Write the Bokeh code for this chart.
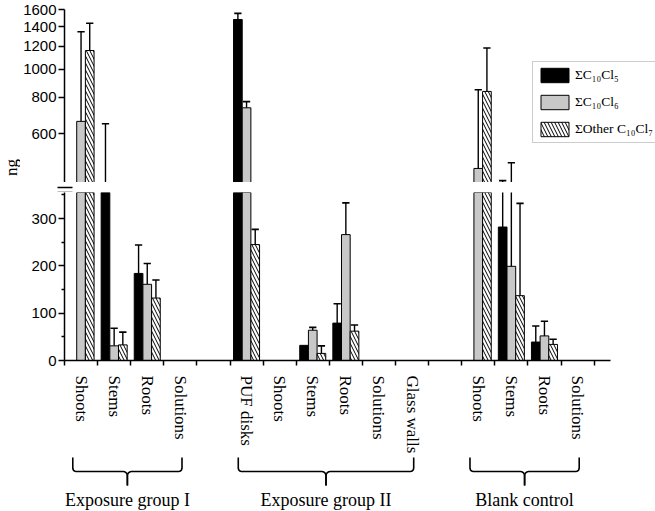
import numpy as np
from bokeh.plotting import figure
from bokeh.models import Range1d, FixedTicker, Legend, LegendItem
from bokeh.layouts import column, row
from bokeh.embed import file_html
from bokeh.resources import INLINE
from bokeh.core.properties import value

# ---------------- data ----------------
group_names = ["Exposure group I", "Exposure group II", "Blank control"]
group_categories = [
    ["Shoots", "Stems", "Roots", "Solutions"],
    ["PUF disks", "Shoots", "Stems", "Roots", "Solutions", "Glass walls"],
    ["Shoots", "Stems", "Roots", "Solutions"],
]
series_names = ["ΣC₁₀Cl₅", "ΣC₁₀Cl₆", "ΣOther C₁₀Cl₇"]
c10cl5 = [0, 380, 184, 0, 1483, 0, 32, 79, 0, 0, 0, 282, 39, 0]
c10cl5_err = [0, 270, 60, 0, 73, 0, 0, 41, 0, 0, 0, 132, 34, 0]
c10cl6 = [662, 31, 161, 0, 737, 0, 64, 266, 0, 0, 456, 199, 52, 0]
c10cl6_err = [683, 37, 44, 0, 37, 0, 6, 67, 0, 0, 394, 278, 31, 0]
c10cl7 = [1160, 33, 132, 0, 245, 0, 15, 62, 0, 0, 839, 137, 34, 0]
c10cl7_err = [280, 27, 38, 0, 32, 0, 16, 13, 0, 0, 344, 195, 11, 0]
lower_ticks = [0, 100, 200, 300]
lower_minor = [50, 150, 250, 350]
upper_ticks = [600, 800, 1000, 1200, 1400, 1600]
lower_range = (0, 355)
upper_range = (408, 1605)
y_label = "ng"

series = [c10cl5, c10cl6, c10cl7]
errors = [c10cl5_err, c10cl6_err, c10cl7_err]

# ---------------- positions ----------------
slots, labels, group_first, group_last = [], [], [], []
pos = 0
for cats in group_categories:
    group_first.append(pos)
    for c in cats:
        slots.append(pos)
        labels.append(c)
        pos += 1
    group_last.append(pos - 1)
    pos += 1
n_slots = pos - 1
centers = [s + 0.5 for s in slots]
bar_w = 0.262
offsets = [-bar_w, 0.0, bar_w]
cap_half = 0.11

fill_colors = ["black", "#c8c8c8", "white"]
hatches = [None, None, "\\"]

LEFT_W = 20          # strip holding the y-axis title
W = 655 - LEFT_W     # main column width
LB = 42              # left border of the main figures (axis panel)
AXIS_W = 548         # drawn length of the category axis
x_axis_end = n_slots + 0.5
slot_px = AXIS_W / x_axis_end
xr = Range1d(0, (W - LB) / slot_px)   # frames run to the right edge (room for legend)
SERIF = "Liberation Serif"
SANS = "Liberation Sans"

H1, HGAP, H2, H3 = 182, 10, 264, 55
B2 = 96


def style(p):
    p.outline_line_color = None
    p.xgrid.grid_line_color = None
    p.ygrid.grid_line_color = None
    p.background_fill_color = "white"
    p.border_fill_color = "white"


def style_yaxis(ax):
    ax.major_tick_in = 0
    ax.major_tick_out = 6
    ax.minor_tick_in = 0
    ax.axis_line_width = 1.5
    ax.major_tick_line_width = 1.5
    ax.minor_tick_line_width = 1.5
    ax.major_label_text_font = SANS
    ax.major_label_text_font_size = "15px"
    ax.major_label_text_color = "black"
    ax.major_label_standoff = 2


def draw(p, bottom):
    rends = []
    for k in range(3):
        vals, errs = series[k], errors[k]
        xs = [c + offsets[k] for c, v in zip(centers, vals) if v > 0]
        tops = [v for v in vals if v > 0]
        kw = dict(fill_color=fill_colors[k], line_color="black", line_width=1)
        if hatches[k]:
            kw.update(hatch_pattern=hatches[k], hatch_color="black", hatch_scale=7, hatch_weight=1)
        r = p.vbar(x=xs, top=tops, bottom=bottom, width=bar_w, **kw)
        rends.append(r)
        ex = [c + offsets[k] for c, v, e in zip(centers, vals, errs) if e > 0]
        ey0 = [v for v, e in zip(vals, errs) if e > 0]
        ey1 = [v + e for v, e in zip(vals, errs) if e > 0]
        p.segment(x0=ex, x1=ex, y0=ey0, y1=ey1, line_color="black", line_width=1.4)
        p.segment(x0=[x - cap_half for x in ex], x1=[x + cap_half for x in ex],
                  y0=ey1, y1=ey1, line_color="black", line_width=1.6)
    return rends


def base_fig(height, **kw):
    args = dict(width=W, height=height, x_range=xr, output_backend="svg",
                toolbar_location=None, min_border=0, min_border_left=LB, min_border_right=0)
    args.update(kw)
    p = figure(**args)
    style(p)
    return p


# ---------------- upper (log) panel ----------------
p1 = base_fig(H1, y_range=Range1d(*upper_range), y_axis_type="log", x_axis_location=None,
              min_border_top=9, min_border_bottom=0)
rends = draw(p1, 1)
ya = p1.yaxis[0]
ya.ticker = FixedTicker(ticks=upper_ticks, minor_ticks=[])
ya.major_label_overrides = {t: str(t) for t in upper_ticks}
ya.minor_tick_out = 0
style_yaxis(ya)

legend = Legend(items=[LegendItem(label=series_names[k], renderers=[rends[k]]) for k in range(3)],
                location=(468, 39), border_line_color="#999999", border_line_width=1,
                background_fill_alpha=1, padding=4, spacing=9, margin=0,
                glyph_width=35, glyph_height=18, label_standoff=3, label_height=18,
                label_text_font=SERIF, label_text_font_size="13.5px", label_text_color="black")
p1.add_layout(legend, "center")

# ---------------- axis-break strip (break marks drawn as ticks across the axis) ----------------
pg = base_fig(HGAP, y_range=Range1d(0, HGAP), x_axis_location=None,
              min_border_top=0, min_border_bottom=0)
gy = pg.yaxis[0]
gy.ticker = FixedTicker(ticks=[0.2 * HGAP, 0.7 * HGAP], minor_ticks=[])
gy.major_label_overrides = {0.2 * HGAP: "", 0.7 * HGAP: ""}
gy.axis_line_color = None
gy.major_tick_out = 7
gy.major_tick_in = 8
gy.major_tick_line_width = 1.3
gy.minor_tick_out = 0
gy.minor_tick_in = 0
gy.major_label_text_font_size = "1px"

# ---------------- lower (linear) panel ----------------
p2 = base_fig(H2, y_range=Range1d(*lower_range), min_border_top=0, min_border_bottom=B2)
draw(p2, 0)
ya2 = p2.yaxis[0]
ya2.ticker = FixedTicker(ticks=lower_ticks, minor_ticks=lower_minor)
ya2.minor_tick_out = 3
style_yaxis(ya2)

xa = p2.xaxis[0]
xa.bounds = (0, x_axis_end)
xa.ticker = FixedTicker(ticks=centers, minor_ticks=list(range(0, n_slots + 1)))
xa.major_label_overrides = {c: l for c, l in zip(centers, labels)}
xa.major_tick_in = 0
xa.major_tick_out = 0
xa.minor_tick_in = 0
xa.minor_tick_out = 5
xa.minor_tick_line_width = 1.5
xa.axis_line_width = 1.5
xa.major_label_orientation = "vertical"
xa.major_label_text_font = SERIF
xa.major_label_text_font_size = "17px"
xa.major_label_text_color = "black"
xa.major_label_standoff = 10

# ---------------- group braces ----------------
p3 = base_fig(H3, y_range=Range1d(0, H3), x_axis_location=None, y_axis_location=None,
              min_border_top=0, min_border_bottom=0)

top_y, mid_y, tip_y, text_y = 54, 40, 26, 12


def quad(p0, c, p1, n=10):
    t = np.linspace(0, 1, n)
    x = (1 - t) ** 2 * p0[0] + 2 * (1 - t) * t * c[0] + t ** 2 * p1[0]
    y = (1 - t) ** 2 * p0[1] + 2 * (1 - t) * t * c[1] + t ** 2 * p1[1]
    return list(x), list(y)


bx, by, gx = [], [], []
for f, l in zip(group_first, group_last):
    xl, xrr = f + 0.25, l + 0.55
    xc = (xl + xrr) / 2
    gx.append(xc)
    for side, xe in ((1, xl), (-1, xrr)):
        xs, ys = [xe], [top_y]
        qx, qy = quad((xe, mid_y + 4), (xe, mid_y), (xe + side * 0.12, mid_y))
        xs += qx; ys += qy
        qx, qy = quad((xc - side * 0.15, mid_y), (xc, mid_y), (xc, mid_y - 5))
        xs += qx; ys += qy
        xs += [xc]; ys += [tip_y]
        bx.append(xs); by.append(ys)

p3.multi_line(xs=bx, ys=by, line_color="black", line_width=1.6)
p3.text(x=gx, y=[text_y] * len(gx), text=group_names, text_font=value(SERIF),
        text_font_size="18px", text_align="center", text_baseline="middle", text_color="black")

# ---------------- y-axis title strip ----------------
H_ALL = H1 + HGAP + H2 + H3
pl = figure(width=LEFT_W, height=H_ALL, x_range=Range1d(0, LEFT_W), y_range=Range1d(0, H_ALL),
            x_axis_location=None, y_axis_location=None,
            output_backend="svg", toolbar_location=None, min_border=0)
style(pl)
pl.text(x=[LEFT_W - 9], y=[H_ALL - 167], text=[y_label], angle=np.pi / 2,
        text_font=value(SERIF), text_font_size="17px",
        text_align="center", text_baseline="middle", text_color="black")

layout = row(pl, column(p1, pg, p2, p3, spacing=0), spacing=0)
open("out.html", "w").write(file_html(layout, INLINE))
